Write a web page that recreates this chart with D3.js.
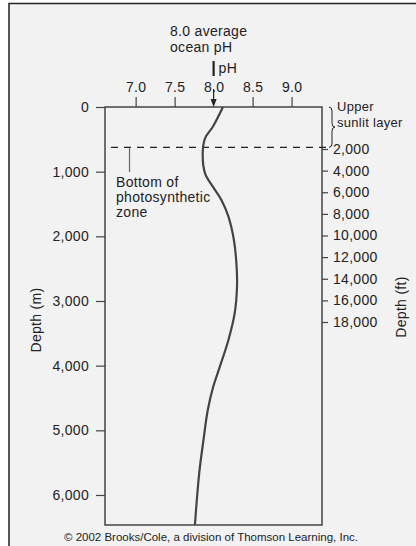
<!DOCTYPE html>
<html><head><meta charset="utf-8">
<script src="https://cdn.jsdelivr.net/npm/d3@7"></script>
<style>
html,body{margin:0;padding:0;background:#fff;}
text{font-family:"Liberation Sans",Arial,sans-serif;fill:#222;letter-spacing:0.3px;}
</style></head>
<body>
<script>
// ---- data ----
const phTicks = [7.0, 7.5, 8.0, 8.5, 9.0];
const depthMTicks = [0, 1000, 2000, 3000, 4000, 5000, 6000];
const depthFtTicks = [2000, 4000, 6000, 8000, 10000, 12000, 14000, 16000, 18000];
const profileDepth = [0, 305, 484, 716, 1025, 1232, 1438, 1696, 2057, 2469, 2779, 3190, 3603, 4016, 4325, 4685, 5149, 5664, 6464];
const profilePH    = [8.12, 7.99, 7.89, 7.86, 7.89, 7.99, 8.10, 8.19, 8.26, 8.295, 8.30, 8.27, 8.19, 8.08, 7.995, 7.925, 7.87, 7.815, 7.76];
const photicDepth = 623;   // bottom of photosynthetic zone (m)
const avgPH = 8.0;

const W = 416, H = 546;
const box = {l:105, t:107, r:322, b:525};
const FS = 14;

const svg = d3.select("body").append("svg").attr("width", W).attr("height", H);
svg.append("rect").attr("x",9).attr("y",3).attr("width",W-9).attr("height",H-3).attr("fill","#f2f2f2");
svg.append("path").attr("d",`M9,${H}V3.5H${W}`).attr("fill","none").attr("stroke","#222").attr("stroke-width",1.5);

const x = d3.scaleLinear().domain([6.607, 9.39]).range([box.l, box.r]);
const y = d3.scaleLinear().domain([0, 6464]).range([box.t, box.b]);
const yFt = d3.scaleLinear().domain([2000, 18000]).range([149, 322]);

const fmt = d3.format(",");
const axisColor = "#444";

svg.append("rect").attr("x",box.l).attr("y",box.t).attr("width",box.r-box.l).attr("height",box.b-box.t)
  .attr("fill","none").attr("stroke",axisColor).attr("stroke-width",1.5);

function styleAxis(g){
  g.select(".domain").remove();
  g.selectAll("line").attr("stroke",axisColor).attr("stroke-width",1.2);
  g.selectAll("text").attr("font-size",FS).attr("font-family","Liberation Sans,Arial,sans-serif").attr("fill","#222");
}

const gTop = svg.append("g").attr("transform",`translate(0,${box.t})`)
  .call(d3.axisTop(x).tickValues(phTicks).tickFormat(d3.format(".1f")).tickSize(10).tickPadding(5));
styleAxis(gTop);
gTop.selectAll(".tick").filter(d=>d===avgPH).select("line").remove();

const gL = svg.append("g").attr("transform",`translate(${box.l},0)`)
  .call(d3.axisLeft(y).tickValues(depthMTicks).tickFormat(fmt).tickSize(9).tickPadding(7));
styleAxis(gL);

const gR = svg.append("g").attr("transform",`translate(${box.r},0)`)
  .call(d3.axisRight(yFt).tickValues(depthFtTicks).tickFormat(fmt).tickSize(6).tickPadding(5));
styleAxis(gR);

svg.append("text").attr("transform",`translate(41,${(box.t+box.b)/2+4}) rotate(-90)`)
  .attr("text-anchor","middle").attr("font-size",FS).text("Depth (m)");
svg.append("text").attr("transform",`translate(406,307) rotate(-90)`)
  .attr("text-anchor","middle").attr("font-size",FS).text("Depth (ft)");

svg.append("line").attr("x1",111).attr("x2",330).attr("y1",y(photicDepth)).attr("y2",y(photicDepth))
  .attr("stroke","#222").attr("stroke-width",1.2).attr("stroke-dasharray","7,6");

const pts = profileDepth.map((d,i)=>[profilePH[i], d]);
svg.append("path").datum(pts)
  .attr("d", d3.line().x(d=>x(d[0])).y(d=>y(d[1])).curve(d3.curveCatmullRom.alpha(0.5)))
  .attr("fill","none").attr("stroke","#444").attr("stroke-width",2.2);

const ax = x(avgPH);
svg.append("text").attr("x",170).attr("y",36).attr("font-size",FS).text("8.0 average");
svg.append("text").attr("x",170).attr("y",52).attr("font-size",FS).text("ocean pH");
svg.append("line").attr("x1",ax).attr("x2",ax).attr("y1",61).attr("y2",76).attr("stroke","#222").attr("stroke-width",2.2);
svg.append("text").attr("x",ax+5).attr("y",73).attr("font-size",FS).text("pH");
svg.append("line").attr("x1",ax).attr("x2",ax).attr("y1",89).attr("y2",101).attr("stroke","#222").attr("stroke-width",1.2);
svg.append("path").attr("d",`M${ax-3},${99}L${ax+3},${99}L${ax},${box.t}Z`).attr("fill","#222");

const bx = 329, bt = box.t, bb = y(photicDepth), bm = (bt+bb)/2;
svg.append("path").attr("d",
  `M${bx},${bt} Q${bx+3},${bt} ${bx+3},${bt+4} L${bx+3},${bm-4} Q${bx+3},${bm} ${bx+6},${bm} Q${bx+3},${bm} ${bx+3},${bm+4} L${bx+3},${bb-4} Q${bx+3},${bb} ${bx},${bb}`)
  .attr("fill","none").attr("stroke","#222").attr("stroke-width",1);
svg.append("text").attr("x",337).attr("y",111).attr("font-size",13).text("Upper");
svg.append("text").attr("x",337).attr("y",126.5).attr("font-size",13).text("sunlit layer");

svg.append("line").attr("x1",129.5).attr("x2",129.5).attr("y1",y(photicDepth)+1).attr("y2",172).attr("stroke","#666").attr("stroke-width",1.2);
["Bottom of","photosynthetic","zone"].forEach((t,i)=>
  svg.append("text").attr("x",116).attr("y",187+i*15).attr("font-size",FS).text(t));

svg.append("text").attr("x",211).attr("y",541).attr("text-anchor","middle").attr("font-size",11.5)
  .style("letter-spacing","0px")
  .text("© 2002 Brooks/Cole, a division of Thomson Learning, Inc.");
</script>
</body></html>
